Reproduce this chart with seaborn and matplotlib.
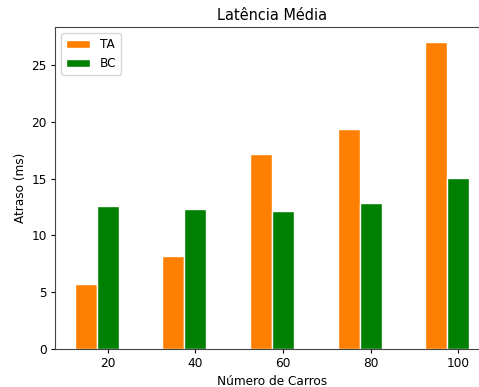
import numpy as np
import seaborn as sns
import matplotlib.pyplot as plt

carros = np.array([20, 40, 60, 80, 100])
ta = [5.7, 8.2, 17.2, 19.4, 27.0]
bc = [12.6, 12.3, 12.2, 12.9, 15.1]

plt.rcParams['font.size'] = 8.7
plt.rcParams['xtick.major.size'] = 3
plt.rcParams['ytick.major.size'] = 3
plt.rcParams['xtick.major.pad'] = 3
plt.rcParams['ytick.major.pad'] = 3
plt.rcParams['axes.titlepad'] = 5
plt.rcParams['axes.labelpad'] = 3
plt.rcParams['axes.edgecolor'] = '#444444'

fig = plt.figure(figsize=(4.79, 3.87), dpi=100)
ax = fig.add_axes([0.115, 0.098, 0.906, 0.832])

# TA bars sit just left of the tick, BC bars centred on it
sns.barplot(x=carros - 5, y=ta, native_scale=True, width=0.25, color='#ff8000',
            saturation=1, edgecolor='white', linewidth=1, label='TA', ax=ax)
sns.barplot(x=carros, y=bc, native_scale=True, width=0.25, color='green',
            saturation=1, edgecolor='white', linewidth=1, label='BC', ax=ax)

ax.set_xticks(carros)
ax.set_xlim(8, 107)
ax.set_ylim(0, 28.35)
ax.set_title('Latência Média')
ax.set_xlabel('Número de Carros')
ax.set_ylabel('Atraso (ms)')
ax.legend(loc='upper left')

fig.savefig('out.png', dpi=100)
